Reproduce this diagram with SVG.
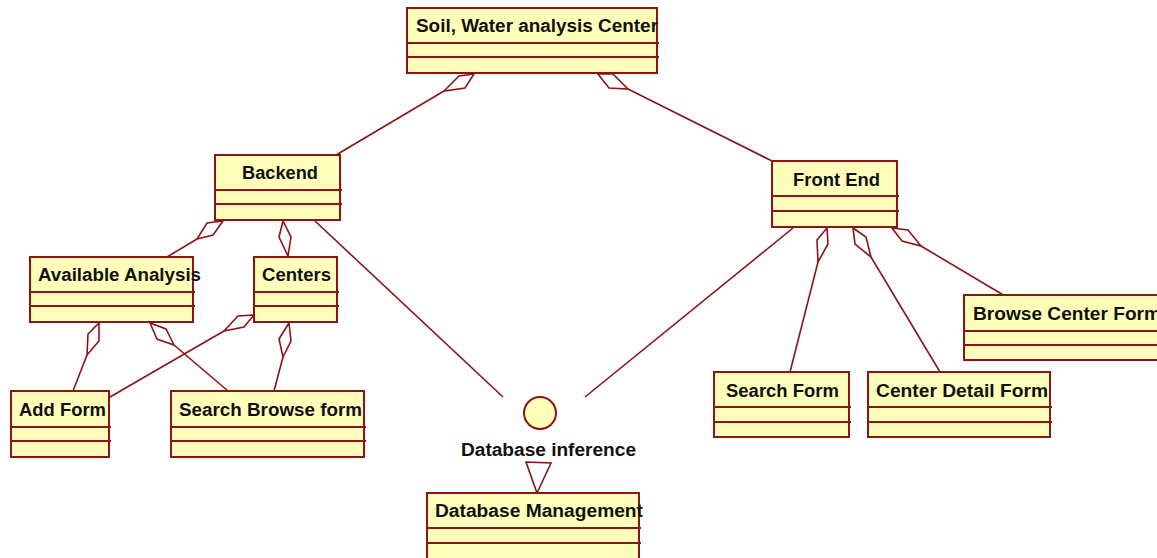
<svg xmlns="http://www.w3.org/2000/svg" width="1157" height="558" viewBox="0 0 1157 558">
<style>
.box{fill:#FFFFBB;stroke:#8B1414;stroke-width:2}
.div{stroke:#8B1414;stroke-width:2}
.lbl{font-family:"Liberation Sans",Arial,sans-serif;font-weight:bold;font-size:18px;fill:#111}
.ln{stroke:#8B1414;stroke-width:1.6;fill:none}
.dia{fill:#FFFFFF;stroke:#8B1414;stroke-width:1.6}
</style>
<rect width="1157" height="558" fill="#FFFFFF"/>
<g id="connectors">
<!-- top -> backend -->
<line class="ln" x1="444" y1="91" x2="336" y2="155"/>
<polygon class="dia" points="474,74 459,76 444,91 465,88"/>
<!-- top -> front end -->
<line class="ln" x1="628" y1="89" x2="772" y2="161"/>
<polygon class="dia" points="598,74 613,74 628,89 609,88"/>
<!-- backend -> available analysis -->
<line class="ln" x1="197" y1="239" x2="167" y2="257"/>
<polygon class="dia" points="223,221 207,223 197,239 213,235"/>
<!-- backend -> centers -->
<line class="ln" x1="288" y1="256" x2="288" y2="257"/>
<polygon class="dia" points="283,221 279,237 288,256 291,237"/>
<!-- available analysis -> add form -->
<line class="ln" x1="87" y1="355" x2="73" y2="391"/>
<polygon class="dia" points="99,323 99,341 87,355 88,334"/>
<!-- available analysis -> search browse -->
<line class="ln" x1="174" y1="345" x2="228" y2="391"/>
<polygon class="dia" points="150,323 166,329 174,345 157,339"/>
<!-- centers -> add form -->
<line class="ln" x1="224" y1="331" x2="110" y2="397"/>
<polygon class="dia" points="254,315 238,316 224,331 244,327"/>
<!-- centers -> search browse -->
<line class="ln" x1="283" y1="357" x2="274" y2="391"/>
<polygon class="dia" points="289,323 291,341 283,357 279,339"/>
<!-- backend -> interface -->
<line class="ln" x1="315" y1="221" x2="503" y2="397"/>
<!-- front end -> interface -->
<line class="ln" x1="793" y1="228" x2="585" y2="397"/>
<!-- front end -> search form -->
<line class="ln" x1="818" y1="262" x2="790" y2="372"/>
<polygon class="dia" points="827,228 828,244 818,262 817,240"/>
<!-- front end -> center detail form -->
<line class="ln" x1="871" y1="257" x2="940" y2="372"/>
<polygon class="dia" points="853,228 866,237 871,257 855,244"/>
<!-- front end -> browse center form -->
<line class="ln" x1="921" y1="246" x2="1005" y2="296"/>
<polygon class="dia" points="892,228 908,230 921,246 902,241"/>
<!-- realization -->
<polygon class="dia" points="526,462 551,463 537,493"/>
</g>
<g id="soil-water">
<rect class="box" x="407" y="8" width="250" height="65"/>
<line class="div" x1="407" y1="43" x2="659" y2="43"/>
<line class="div" x1="407" y1="57" x2="659" y2="57"/>
<text class="lbl" x="416" y="32" textLength="242" lengthAdjust="spacingAndGlyphs">Soil, Water analysis Center</text>
</g>
<g id="backend">
<rect class="box" x="215" y="155" width="125" height="65"/>
<line class="div" x1="215" y1="190" x2="342" y2="190"/>
<line class="div" x1="215" y1="204" x2="342" y2="204"/>
<text class="lbl" x="242" y="179" textLength="76" lengthAdjust="spacingAndGlyphs">Backend</text>
</g>
<g id="available-analysis">
<rect class="box" x="30" y="257" width="163" height="65"/>
<line class="div" x1="30" y1="292" x2="195" y2="292"/>
<line class="div" x1="30" y1="306" x2="195" y2="306"/>
<text class="lbl" x="38" y="281" textLength="163" lengthAdjust="spacingAndGlyphs">Available Analysis</text>
</g>
<g id="centers">
<rect class="box" x="254" y="257" width="83" height="65"/>
<line class="div" x1="254" y1="292" x2="339" y2="292"/>
<line class="div" x1="254" y1="306" x2="339" y2="306"/>
<text class="lbl" x="262" y="281" textLength="69" lengthAdjust="spacingAndGlyphs">Centers</text>
</g>
<g id="add-form">
<rect class="box" x="11" y="391" width="98" height="66"/>
<line class="div" x1="11" y1="427" x2="111" y2="427"/>
<line class="div" x1="11" y1="441" x2="111" y2="441"/>
<text class="lbl" x="19" y="416" textLength="87" lengthAdjust="spacingAndGlyphs">Add Form</text>
</g>
<g id="search-browse-form">
<rect class="box" x="171" y="391" width="193" height="66"/>
<line class="div" x1="171" y1="427" x2="366" y2="427"/>
<line class="div" x1="171" y1="441" x2="366" y2="441"/>
<text class="lbl" x="179" y="416" textLength="183" lengthAdjust="spacingAndGlyphs">Search Browse form</text>
</g>
<g id="database-inference">
<circle cx="540" cy="413" r="16" fill="#FFFFBB" stroke="#8B1414" stroke-width="2"/>
<text class="lbl" x="461" y="456" textLength="175" lengthAdjust="spacingAndGlyphs">Database inference</text>
</g>
<g id="database-management">
<rect class="box" x="427" y="493" width="212" height="75"/>
<line class="div" x1="427" y1="528" x2="641" y2="528"/>
<line class="div" x1="427" y1="543" x2="641" y2="543"/>
<text class="lbl" x="435" y="517" textLength="208" lengthAdjust="spacingAndGlyphs">Database Management</text>
</g>
<g id="front-end">
<rect class="box" x="772" y="161" width="125" height="66"/>
<line class="div" x1="772" y1="196" x2="899" y2="196"/>
<line class="div" x1="772" y1="211" x2="899" y2="211"/>
<text class="lbl" x="793" y="186" textLength="87" lengthAdjust="spacingAndGlyphs">Front End</text>
</g>
<g id="browse-center-form">
<rect class="box" x="964" y="295" width="210" height="65"/>
<line class="div" x1="964" y1="331" x2="1174" y2="331"/>
<line class="div" x1="964" y1="345" x2="1174" y2="345"/>
<text class="lbl" x="973" y="320" textLength="188" lengthAdjust="spacingAndGlyphs">Browse Center Form</text>
</g>
<g id="search-form">
<rect class="box" x="714" y="372" width="135" height="65"/>
<line class="div" x1="714" y1="407" x2="851" y2="407"/>
<line class="div" x1="714" y1="422" x2="851" y2="422"/>
<text class="lbl" x="726" y="397" textLength="113" lengthAdjust="spacingAndGlyphs">Search Form</text>
</g>
<g id="center-detail-form">
<rect class="box" x="868" y="372" width="182" height="65"/>
<line class="div" x1="868" y1="407" x2="1052" y2="407"/>
<line class="div" x1="868" y1="422" x2="1052" y2="422"/>
<text class="lbl" x="876" y="397" textLength="172" lengthAdjust="spacingAndGlyphs">Center Detail Form</text>
</g>
</svg>
